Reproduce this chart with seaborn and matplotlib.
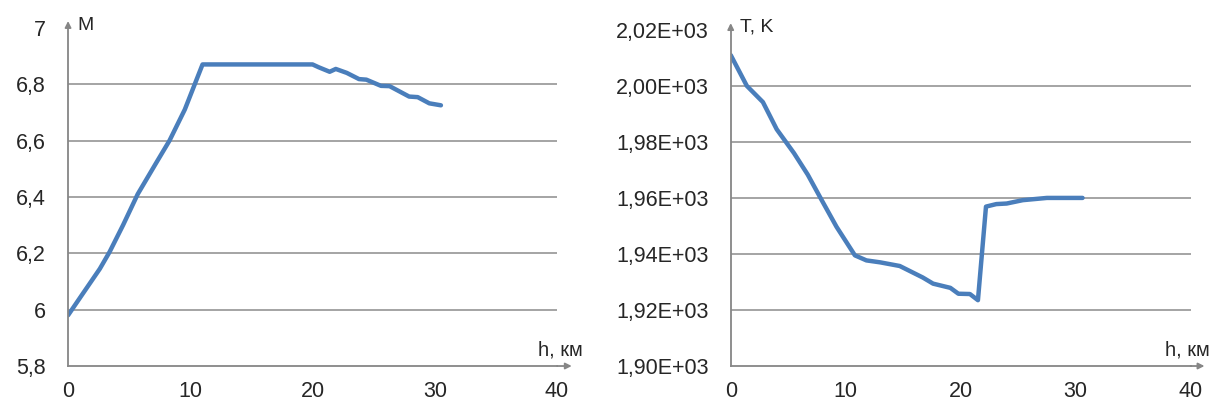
import matplotlib
matplotlib.use("Agg")
import matplotlib.pyplot as plt
import seaborn as sns
from matplotlib.ticker import FuncFormatter

# ---- data ----
h_mach = [0, 1.1, 2.6, 3.4, 4.5, 5.7, 7.2, 8.3, 9.55, 11, 15, 20, 20.5,
          21.4, 21.9, 22.8, 23.8, 24.4, 25.6, 26.3, 27.9, 28.6, 29.55, 30.5]
mach = [5.98, 6.05, 6.145, 6.205, 6.3, 6.41, 6.52, 6.6, 6.71, 6.87, 6.87,
        6.87, 6.86, 6.844, 6.854, 6.84, 6.818, 6.816, 6.794, 6.793, 6.756,
        6.754, 6.732, 6.725]

h_temp = [0, 1.4, 2.8, 4.0, 5.5, 6.7, 7.9, 9.2, 10.8, 11.8, 13, 14.7, 16.7, 17.6,
          19.1, 19.8, 20.8, 21.5, 22.2, 23.1, 24, 25.4, 27.5, 30.6]
temp = [2011, 2000, 1994.2, 1984.5, 1976, 1968.3, 1959.3, 1949.7, 1939.5, 1937.7,
        1937, 1935.7, 1931.6, 1929.4, 1927.9, 1925.8, 1925.7, 1923.5, 1956.9,
        1957.8, 1958, 1959.2, 1960, 1960]

x_ticks = [0, 10, 20, 30, 40]
mach_ticks = [5.8, 6.0, 6.2, 6.4, 6.6, 6.8, 7.0]
temp_ticks = [1900, 1920, 1940, 1960, 1980, 2000, 2020]

sns.set_style("white")
plt.rcParams['font.family'] = ['Liberation Sans', 'DejaVu Sans']

LINE = "#4a7ebb"
AXC = "#868686"
GRID = "#8c8c8c"
TXT = "#262626"

fig = plt.figure(figsize=(12.11, 4.07), dpi=100)
ax1 = fig.add_axes([0.0562, 0.1007, 0.4038, 0.831])
ax2 = fig.add_axes([0.6034, 0.1007, 0.3798, 0.826])


def fmt_mach(v, pos):
    s = "{:.1f}".format(v).replace(".", ",")
    return s[:-2] if s.endswith(",0") else s


def fmt_temp(v, pos):
    return "{:.2E}".format(v).replace(".", ",")


def style_axis(ax, yticks, ylim, fmt, ylab, xlab_x):
    ax.set_xlim(0, 40)
    ax.set_ylim(*ylim)
    ax.set_xticks(x_ticks)
    ax.set_yticks(yticks)
    ax.yaxis.set_major_formatter(FuncFormatter(fmt))
    for s in ["top", "right"]:
        ax.spines[s].set_visible(False)
    for s in ["left", "bottom"]:
        ax.spines[s].set_color(AXC)
        ax.spines[s].set_linewidth(1.3)
    ax.tick_params(axis="both", colors=AXC, length=6, width=1.3,
                   labelcolor=TXT, labelsize=15.5)
    ax.tick_params(axis="x", pad=5)
    ax.tick_params(axis="y", pad=10)
    for y in yticks[1:-1]:
        ax.axhline(y, color=GRID, lw=1.1, zorder=0)
    ax.set_xlabel("")
    ax.set_ylabel("")
    # axis arrows
    ax.annotate("", xy=(1.03, 0), xytext=(1.0, 0), xycoords="axes fraction",
                arrowprops=dict(arrowstyle="-|>", color=AXC, lw=1.3,
                                mutation_scale=9, shrinkA=0, shrinkB=0),
                annotation_clip=False)
    ax.annotate("", xy=(0, 1.02), xytext=(0, 1.0), xycoords="axes fraction",
                arrowprops=dict(arrowstyle="-|>", color=AXC, lw=1.3,
                                mutation_scale=9, shrinkA=0, shrinkB=0),
                annotation_clip=False)
    ax.text(xlab_x, 0.02, "h, км", transform=ax.transAxes, ha="right",
            va="bottom", fontsize=14.5, color=TXT)
    ax.text(0.02, 1.008, ylab, transform=ax.transAxes, ha="left",
            va="center", fontsize=14, color=TXT)


sns.lineplot(x=h_mach, y=mach, ax=ax1, color=LINE, lw=3.2, sort=False)
style_axis(ax1, mach_ticks, (5.8, 7.0), fmt_mach, "M", 1.053)

sns.lineplot(x=h_temp, y=temp, ax=ax2, color=LINE, lw=3.2, sort=False)
style_axis(ax2, temp_ticks, (1900, 2020), fmt_temp, "T, K", 1.042)

fig.savefig("out.png", dpi=100)
